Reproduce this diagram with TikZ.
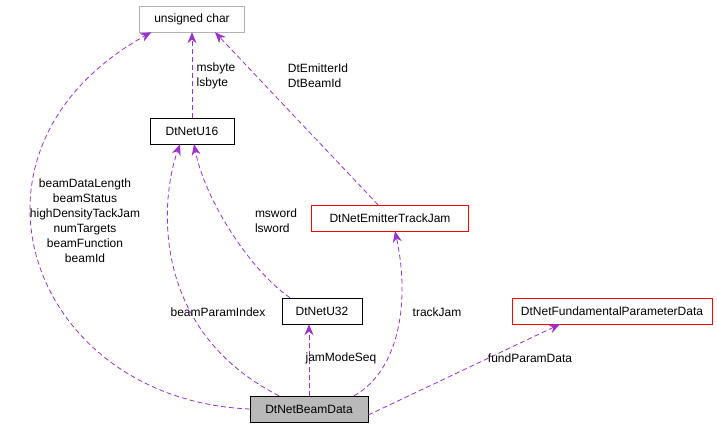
\documentclass[tikz,border=0pt]{standalone}
\usepackage{fontspec}
\setmainfont{Liberation Sans}
\usetikzlibrary{arrows.meta}
\definecolor{edge}{HTML}{9A32CD}
\begin{document}
\begin{tikzpicture}[x=1pt,y=-1pt,
  font=\fontsize{12}{15}\selectfont,
  box/.style={draw=black,fill=white,minimum height=26pt,inner xsep=4pt,anchor=center},
  e/.style={draw=edge,dashed,dash pattern=on 5pt off 3pt,line width=0.8pt,-{Stealth[length=11pt,width=9pt,fill=edge]}},
  lab/.style={align=left,inner sep=1pt}]
\useasboundingbox (0,0) rectangle (717,429);
\node[box,draw=gray!60,minimum width=105pt] (uc) at (192,19) {unsigned char};
\node[box,minimum width=84pt] (u16) at (192,131) {DtNetU16};
\node[box,draw=red,minimum width=157pt] (etj) at (390,218) {DtNetEmitterTrackJam};
\node[box,minimum width=80pt] (u32) at (322,311) {DtNetU32};
\node[box,draw=red,minimum width=200pt] (fpd) at (612,311) {DtNetFundamentalParameterData};
\node[box,fill=gray!55,minimum width=118pt] (bd) at (309,409) {DtNetBeamData};

\draw[e] (bd.west) .. controls (30,400) and (-60,150) .. ([xshift=12pt]uc.south west);
\node[lab,align=center] at (85,221) {beamDataLength\\beamStatus\\highDensityTackJam\\numTargets\\beamFunction\\beamId};
\draw[e] ([xshift=-30pt]bd.north) .. controls (150,330) and (160,200) .. ([xshift=-12pt]u16.south);
\node[lab] at (218,312) {beamParamIndex};
\draw[e] ([xshift=-32pt]u32.north) .. controls (250,270) and (205,200) .. ([xshift=2pt]u16.south);
\node[lab] at (276,221) {msword\\lsword};
\draw[e] (u16.north) -- (uc.south);
\node[lab] at (216,76) {msbyte\\lsbyte};
\draw[e] ([xshift=-12pt]etj.north) -- ([xshift=23pt]uc.south);
\node[lab] at (318,76) {DtEmitterId\\DtBeamId};
\draw[e] (bd.north) -- (bd.north |- u32.south);
\node[lab] at (341,358) {jamModeSeq};
\draw[e] ([xshift=45pt]bd.north) .. controls (400,370) and (410,300) .. ([xshift=5pt]etj.south);
\node[lab] at (437,312) {trackJam};
\draw[e] ([yshift=-6pt]bd.east) -- ([xshift=-52pt]fpd.south);
\node[lab] at (530,358) {fundParamData};
\end{tikzpicture}
\end{document}
